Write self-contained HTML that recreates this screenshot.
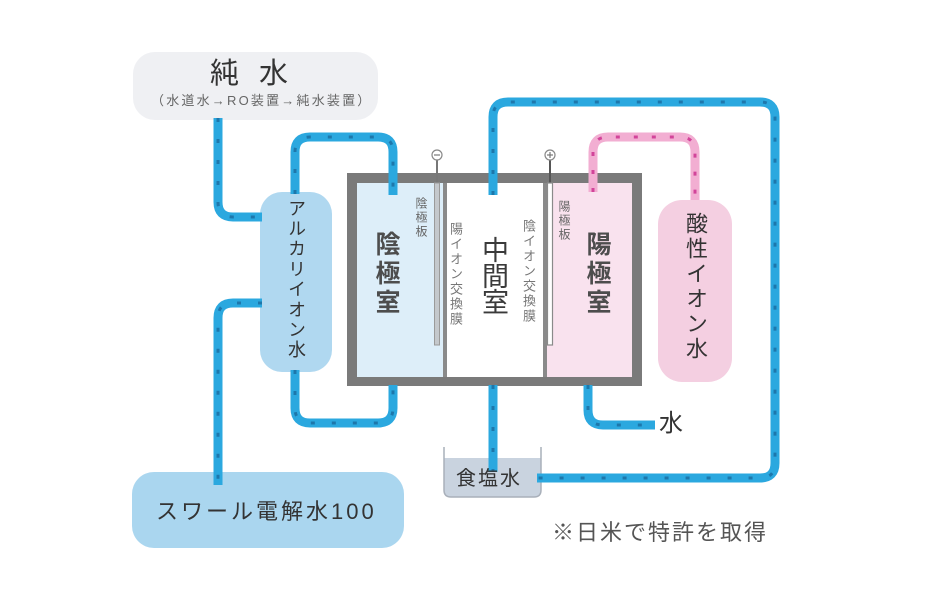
<!DOCTYPE html>
<html><head><meta charset="utf-8">
<style>
html,body{margin:0;padding:0;background:#fff;}
#c{position:relative;width:928px;height:600px;overflow:hidden;font-family:"Liberation Sans","Noto Sans CJK JP",sans-serif;}
svg{position:absolute;left:0;top:0;}
.t{position:absolute;white-space:nowrap;line-height:1;}
.v{position:absolute;writing-mode:vertical-rl;line-height:1;white-space:nowrap;}
</style></head><body>
<div id="c">
<svg width="928" height="600" viewBox="0 0 928 600">
  <!-- pure water box -->
  <rect x="133" y="52" width="245" height="68" rx="22" fill="#eff0f3"/>
  <!-- alkaline box -->
  <rect x="260" y="192" width="72" height="180" rx="22" fill="#b0d8f0"/>
  <!-- acid box -->
  <rect x="658" y="200" width="74" height="182" rx="24" fill="#f4cfe1"/>
  <!-- swirl box -->
  <rect x="132" y="472" width="272" height="76" rx="22" fill="#aad6ef"/>
  <!-- cell -->
  <rect x="347" y="173" width="295" height="213" fill="#7a7a7a"/>
  <rect x="357" y="183" width="86" height="194" fill="#ddeef9"/>
  <rect x="447" y="183" width="96" height="194" fill="#ffffff"/>
  <rect x="547" y="183" width="85" height="194" fill="#f9e2ee"/>
  <rect x="443" y="183" width="4" height="194" fill="#8a8a8a"/>
  <rect x="543" y="183" width="4" height="194" fill="#8a8a8a"/>
  <!-- electrodes -->
  <line x1="437" y1="160" x2="437" y2="183" stroke="#777" stroke-width="2"/>
  <rect x="434.5" y="183" width="5" height="162" fill="#c4c8cc" stroke="#9a9a9a" stroke-width="1"/>
  <circle cx="437" cy="155" r="5" fill="#fff" stroke="#888" stroke-width="1.2"/>
  <line x1="434" y1="155" x2="440" y2="155" stroke="#777" stroke-width="1.2"/>
  <line x1="550" y1="160" x2="550" y2="183" stroke="#555" stroke-width="2"/>
  <rect x="547.5" y="183" width="5" height="162" fill="#ffffff" stroke="#8a8a8a" stroke-width="1.2"/>
  <circle cx="550" cy="155" r="5" fill="#fff" stroke="#888" stroke-width="1.2"/>
  <line x1="547" y1="155" x2="553" y2="155" stroke="#777" stroke-width="1.2"/>
  <line x1="550" y1="152" x2="550" y2="158" stroke="#777" stroke-width="1.2"/>
  <!-- salt water tank -->
  <path d="M444,458 H541 V490 Q541,497 534,497 H451 Q444,497 444,490 Z" fill="#c9d3df"/>
  <path d="M444,447 V490 Q444,497 451,497 H534 Q541,497 541,490 V447" fill="none" stroke="#a9b0ba" stroke-width="1.5"/>
  <!-- blue pipes -->
  <g fill="none" stroke="#2ba8df" stroke-width="9">
    <path d="M218,118 V202 Q218,217 233,217 H262"/>
    <path d="M295,194 V152 Q295,137 310,137 H378 Q393,137 393,152 V195"/>
    <path d="M262,303 H233 Q218,303 218,318 V485"/>
    <path d="M295,370 V408 Q295,423 310,423 H378 Q393,423 393,408 V385"/>
    <path d="M493,195 V117 Q493,102 508,102 H760 Q775,102 775,117 V463 Q775,478 760,478 H537"/>
    <path d="M493,385 V472"/>
    <path d="M588,385 V410 Q588,425 603,425 H655"/>
  </g>
  <g fill="none" stroke="#1b6fa3" stroke-width="3" stroke-dasharray="4 17" opacity="0.85">
    <path d="M218,118 V202 Q218,217 233,217 H262"/>
    <path d="M295,194 V152 Q295,137 310,137 H378 Q393,137 393,152 V195"/>
    <path d="M262,303 H233 Q218,303 218,318 V485"/>
    <path d="M295,370 V408 Q295,423 310,423 H378 Q393,423 393,408 V385"/>
    <path d="M493,195 V117 Q493,102 508,102 H760 Q775,102 775,117 V463 Q775,478 760,478 H537"/>
    <path d="M493,385 V472"/>
    <path d="M588,385 V410 Q588,425 603,425 H655"/>
  </g>
  <!-- pink pipe -->
  <path d="M593,192 V152 Q593,137 608,137 H680 Q695,137 695,152 V200" fill="none" stroke="#f2aed2" stroke-width="9"/>
  <path d="M593,192 V152 Q593,137 608,137 H680 Q695,137 695,152 V200" fill="none" stroke="#d2449a" stroke-width="3" stroke-dasharray="4 14"/>
</svg>

<!-- texts -->
<div class="t" style="left:210px;top:60px;font-size:29px;color:#333;letter-spacing:6px;">純&nbsp;水</div>
<div class="t" style="left:151px;top:94px;font-size:13px;color:#666;letter-spacing:2.2px;">（水道水→RO装置→純水装置）</div>

<div class="v" style="left:287px;top:199px;font-size:18px;color:#333;letter-spacing:2.2px;width:18px;">アルカリイオン水</div>
<div class="v" style="left:684px;top:212px;font-size:22px;color:#333;letter-spacing:3px;width:22px;">酸性イオン水</div>

<div class="v" style="left:373px;top:231px;font-size:25px;color:#4d4d4d;letter-spacing:4px;width:25px;font-weight:bold;">陰極室</div>
<div class="v" style="left:479px;top:236px;font-size:27px;color:#3a3a3a;letter-spacing:-1px;width:27px;">中間室</div>
<div class="v" style="left:584px;top:231px;font-size:25px;color:#4d4d4d;letter-spacing:4px;width:25px;font-weight:bold;">陽極室</div>

<div class="v" style="left:415px;top:197px;font-size:12px;color:#666;letter-spacing:2px;width:12px;">陰極板</div>
<div class="v" style="left:558px;top:200px;font-size:12px;color:#666;letter-spacing:2px;width:12px;">陽極板</div>
<div class="v" style="left:449px;top:222px;font-size:13px;color:#777;letter-spacing:2px;width:13px;">陽イオン交換膜</div>
<div class="v" style="left:522px;top:219px;font-size:13px;color:#777;letter-spacing:2px;width:13px;">陰イオン交換膜</div>

<div class="t" style="left:659px;top:412px;font-size:24px;color:#333;">水</div>
<div class="t" style="left:456px;top:469px;font-size:20px;color:#333;letter-spacing:2px;">食塩水</div>
<div class="t" style="left:156px;top:501px;font-size:22px;color:#333;letter-spacing:3px;">スワール電解水100</div>
<div class="t" style="left:552px;top:522px;font-size:22px;color:#555;letter-spacing:2px;">※日米で特許を取得</div>
</div>
</body></html>
